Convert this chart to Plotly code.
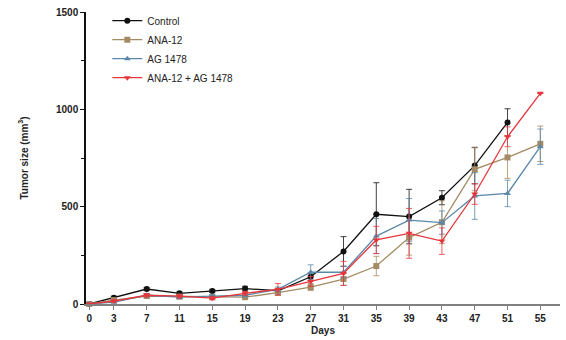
import plotly.graph_objects as go

days = [0, 3, 7, 11, 15, 19, 23, 27, 31, 35, 39, 43, 47, 51, 55]
x_ticks = [0, 3, 7, 11, 15, 19, 23, 27, 31, 35, 39, 43, 47, 51, 55]

control = [0, 32, 77, 55, 67, 79, 68, 140, 270, 461, 449, 546, 711, 933]
control_err = [0, 8, 8, 8, 8, 12, 12, 20, 76, 162, 140, 36, 94, 70]

ana12 = [0, 20, 41, 38, 35, 35, 58, 87, 128, 195, 341, 420, 692, 753, 823]
ana12_err = [0, 6, 8, 8, 8, 8, 10, 18, 31, 50, 90, 110, 110, 108, 91]

ag1478 = [0, 10, 45, 35, 40, 45, 75, 163, 163, 349, 431, 418, 555, 568, 808]
ag1478_err = [0, 5, 8, 8, 8, 8, 12, 38, 30, 90, 111, 60, 120, 68, 91]

combo = [0, 15, 45, 40, 30, 55, 75, 116, 157, 329, 363, 323, 565, 859, 1082]
combo_err = [0, 6, 8, 8, 8, 10, 30, 25, 62, 70, 128, 68, 53, 51, 0]

series = [
    ("Control", control, control_err, "#111111", "circle"),
    ("ANA-12", ana12, ana12_err, "#A48B63", "square"),
    ("AG 1478", ag1478, ag1478_err, "#5B87A8", "triangle-up"),
    ("ANA-12 + AG 1478", combo, combo_err, "#E8353B", "triangle-down"),
]

fig = go.Figure()
for name, vals, errs, color, sym in series:
    fig.add_trace(go.Scatter(
        x=days[:len(vals)], y=vals, name=name, mode="lines+markers",
        line=dict(color=color, width=1.3),
        marker=dict(symbol=sym, size=6, color=color),
        error_y=dict(type="data", array=errs, visible=True, color=color,
                     thickness=0.8, width=3),
        cliponaxis=False,
    ))

fig.update_layout(
    width=566, height=340,
    margin=dict(l=86, r=6, t=12, b=36),
    plot_bgcolor="white", paper_bgcolor="white",
    font=dict(family="Liberation Sans, Arial, sans-serif", color="#222"),
    showlegend=True,
    legend=dict(x=0.045, y=1.02, xanchor="left", yanchor="top",
                font=dict(size=10, color="#222"), bgcolor="rgba(0,0,0,0)",
                itemwidth=30, tracegroupgap=0),
    xaxis=dict(
        range=[-0.4, 57.4], tickmode="array", tickvals=x_ticks,
        ticktext=[f"<b>{t}</b>" for t in x_ticks],
        showline=True, linecolor="#808080", linewidth=1.5,
        ticks="outside", ticklen=4, tickcolor="#808080",
        showgrid=False, zeroline=False,
        tickfont=dict(size=10, color="#222"),
        title=dict(text="<b>Days</b>", font=dict(size=10, color="#222"), standoff=4),
    ),
    yaxis=dict(
        range=[0, 1500], tickmode="array", tickvals=[0, 500, 1000, 1500],
        ticktext=["<b>0</b>", "<b>500</b>", "<b>1000</b>", "<b>1500</b>"],
        showline=True, linecolor="#111", linewidth=1.5,
        ticks="outside", ticklen=4, tickcolor="#111",
        minor=dict(tickvals=[250, 750, 1250], ticks="outside", ticklen=3, tickcolor="#111"),
        showgrid=False, zeroline=False,
        tickfont=dict(size=10, color="#222"),
        title=dict(text="<b>Tumor size (mm<sup>3</sup>)</b>", font=dict(size=10, color="#222"), standoff=26),
    ),
)

fig.write_html("out.html", config={"displayModeBar": False},
               post_script="document.body.style.margin='0';")
